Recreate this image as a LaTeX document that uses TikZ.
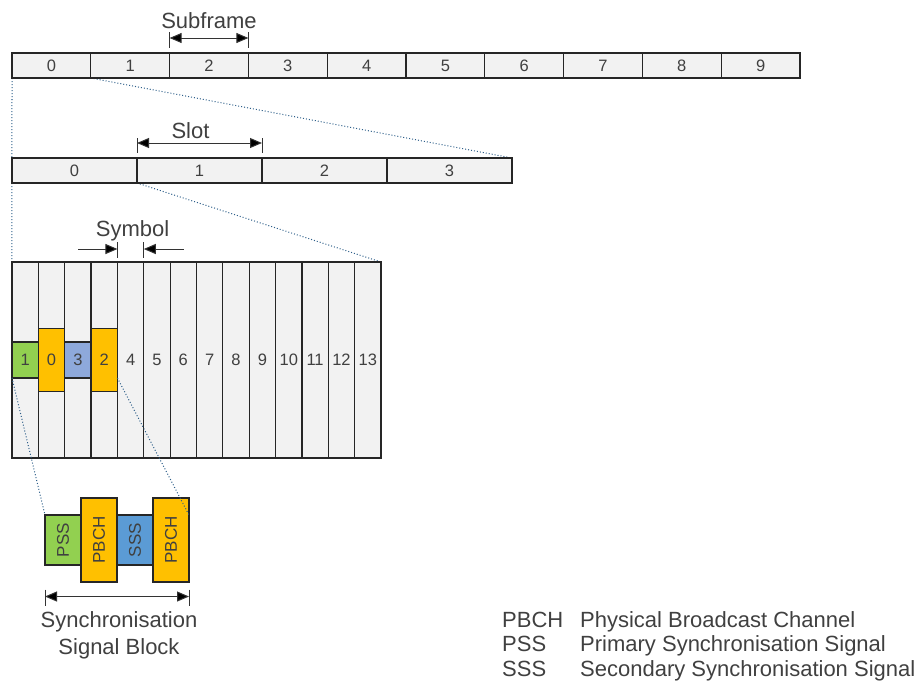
\documentclass[tikz,border=0pt]{standalone}
\usepackage{fontspec}
\setmainfont{Liberation Sans}
\usetikzlibrary{arrows.meta, positioning, calc, backgrounds}
\definecolor{cellgray}{RGB}{242,242,242}
\definecolor{ssbgreen}{RGB}{146,208,80}
\definecolor{ssborange}{RGB}{255,192,0}
\definecolor{ssbblue}{RGB}{91,155,213}
\definecolor{symblue}{RGB}{142,169,219}
\definecolor{txtgray}{RGB}{64,64,64}
\definecolor{zoomblue}{RGB}{46,95,138}

\begin{document}
\begin{tikzpicture}[x=1pt, y=-1pt,
		font=\fontsize{22}{27}\selectfont, text=txtgray,
		cell/.style={draw=black!85, fill=cellgray, line width=1.2pt, inner sep=0pt, outer sep=0pt,
			font=\fontsize{16.5}{19}\selectfont},
		symcell/.style={cell, minimum width=26.36pt},
		ssbcell/.style={cell, minimum width=36pt, font=\fontsize{17}{20}\selectfont},
		dim/.style={line width=1pt, draw=black!80},
		zoomline/.style={dotted, line width=1pt, draw=zoomblue},
		>={Triangle[length=12pt, width=10pt, fill=black]},
		node distance=0pt
	]
		\useasboundingbox (0,0) rectangle (923,681);
		% frame, slots and symbols
		\foreach \i in {0,...,9}
			\node[cell, minimum width=78.8pt, minimum height=25pt] (sf\i) at ({12+78.8*(\i+0.5)},65.5) {\i};
		\foreach \i in {0,...,3}
			\node[cell, minimum width=125pt, minimum height=25pt] (sl\i) at ({12+125*(\i+0.5)},170.5) {\i};
		\foreach \i in {0,...,13}
			\node[symcell, minimum height=196pt] (sy\i) at ({12+26.357*(\i+0.5)},360) {\ifnum\i>3 \i\fi};
		\node[symcell, fill=ssbgreen, minimum height=36pt] (b1) at (sy0) {1};
		\node[symcell, fill=ssborange, minimum height=63pt] (b0) at (sy1) {0};
		\node[symcell, fill=symblue, minimum height=36pt] (b3) at (sy2) {3};
		\node[symcell, fill=ssborange, minimum height=63pt] (b2) at (sy3) {2};
		% synchronisation signal block
		\node[ssbcell, fill=ssbgreen, minimum height=50pt] (pss) at (63,540) {\rotatebox{90}{PSS}};
		\node[ssbcell, fill=ssborange, minimum height=84pt, right=of pss] (pbcha) {\rotatebox{90}{PBCH}};
		\node[ssbcell, fill=ssbblue, minimum height=50pt, right=of pbcha] (sss) {\rotatebox{90}{SSS}};
		\node[ssbcell, fill=ssborange, minimum height=84pt, right=of sss] (pbchb) {\rotatebox{90}{PBCH}};
		% zoom lines
		\begin{scope}[on background layer]
			\draw[zoomline] (sf0.south west) -- (sy0.north west);
			\draw[zoomline] (sf1.south west) -- (sl3.north east);
			\draw[zoomline] (sl1.south west) -- (sy13.north east);
		\end{scope}
		\draw[zoomline] (b1.south west) -- (pss.north west);
		\draw[zoomline] (b2.east |- b1.south) -- (pbchb.east |- pss.north);
		% dimensions
		\draw[dim, <->] ($(sf2.north west)+(0,-15)$) -- ($(sf2.north east)+(0,-15)$);
		\draw[dim] ($(sf2.north west)+(0,-21)$) -- ++(0,16);
		\draw[dim] ($(sf2.north east)+(0,-21)$) -- ++(0,16);
		\node[anchor=base] (sflabel) at ($(sf2.north)+(0,-24.5)$) {Subframe};
		\draw[dim, <->] ($(sl1.north west)+(0,-15)$) -- ($(sl1.north east)+(0,-15)$);
		\draw[dim] ($(sl1.north west)+(0,-20)$) -- ++(0,15);
		\draw[dim] ($(sl1.north east)+(0,-20)$) -- ++(0,15);
		\node[anchor=base] (sllabel) at ($(sl1.north)+(-9,-20)$) {Slot};
		\draw[dim, ->] ($(sy4.north west)+(-39,-13)$) -- ($(sy4.north west)+(0,-13)$);
		\draw[dim, ->] ($(sy4.north east)+(40,-13)$) -- ($(sy4.north east)+(0,-13)$);
		\draw[dim] ($(sy4.north west)+(0,-20)$) -- ++(0,16);
		\draw[dim] ($(sy4.north east)+(0,-20)$) -- ++(0,16);
		\node[anchor=base] (sylabel) at ($(sy4.north)+(2,-26)$) {Symbol};
		\coordinate (ssbl) at ($(pss.west |- pbcha.south)+(0,14.5)$);
		\coordinate (ssbr) at ($(pbchb.east |- pbcha.south)+(0,14.5)$);
		\draw[dim, <->] (ssbl) -- (ssbr);
		\draw[dim] ($(ssbl)+(0,-7)$) -- ++(0,16);
		\draw[dim] ($(ssbr)+(0,-7)$) -- ++(0,16);
		\node[anchor=north, align=center, inner sep=0pt] (ssblabel) at ($(ssbl)!0.5!(ssbr)+(2,15)$) {Synchronisation\\Signal Block};
		% legend
		\node[anchor=base west, inner sep=0pt] (legend) at (502,627)
			{\fontsize{22}{24.5}\selectfont\begin{tabular}[t]{@{}p{78pt}@{}l@{}}
				PBCH & Physical Broadcast Channel\\
				PSS & Primary Synchronisation Signal\\
				SSS & Secondary Synchronisation Signal
			\end{tabular}};
	\end{tikzpicture}
\end{document}
